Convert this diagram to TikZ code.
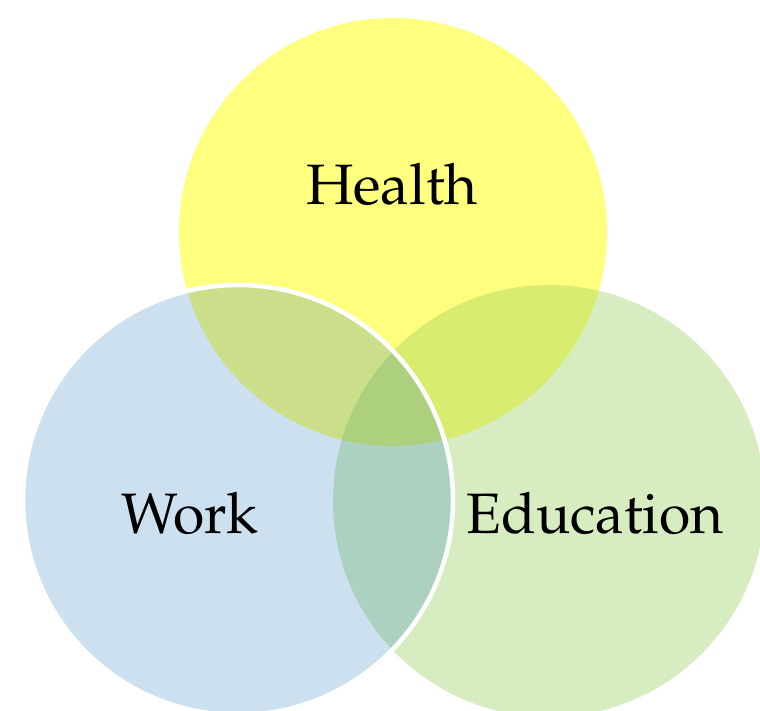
\documentclass[tikz,border=0pt]{standalone}
\usepackage[T1]{fontenc}
\usepackage{mathpazo}
\definecolor{healthyellow}{RGB}{255,255,0}
\definecolor{edugreen}{RGB}{144,201,81}
\definecolor{workblue}{RGB}{12,107,184}
\begin{document}
\begin{tikzpicture}[x=1pt, y=1pt,
    circletext/.style={font=\fontsize{57}{62}\selectfont, anchor=base}]
\useasboundingbox (0, 0) rectangle (760, 710);
\clip (0, 0) rectangle (760, 710);
\fill[healthyellow, opacity=0.5] (393, 478) circle(214pt);
\fill[edugreen, opacity=0.35] (549, 209) circle(216pt);
\fill[workblue, opacity=0.21] (238, 210) circle(215pt);
\draw[white, line width=4.5pt] (238, 210) circle(215pt);
\node[circletext] (health) at (392, 505) {Health};
\node[circletext] (work) at (190, 177) {Work};
\node[circletext] (education) at (595, 177) {Education};
\end{tikzpicture}
\end{document}
